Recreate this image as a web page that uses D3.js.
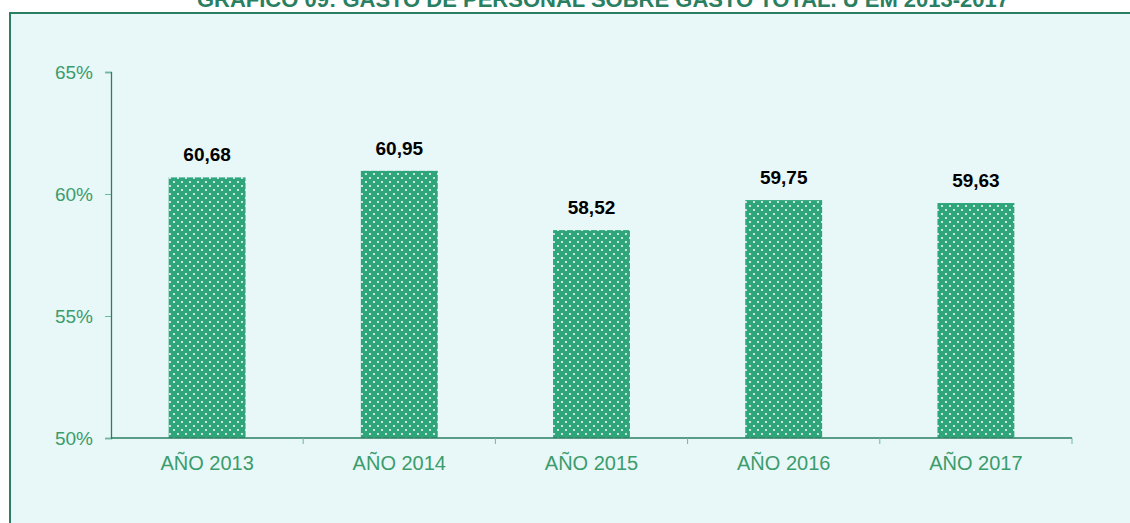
<!DOCTYPE html>
<html>
<head>
<meta charset="utf-8">
<script src="https://cdn.jsdelivr.net/npm/d3@7"></script>
<style>
  html, body { margin: 0; padding: 0; background: #ffffff; }
  svg { display: block; }
</style>
</head>
<body>
<svg id="chart" width="1130" height="523"></svg>
<script>
// Personnel spending as a share of total spending, by year
const years = ["AÑO 2013", "AÑO 2014", "AÑO 2015", "AÑO 2016", "AÑO 2017"];
const shares = [60.68, 60.95, 58.52, 59.75, 59.63];
const yTicks = [50, 55, 60, 65];
const titleText = "GRÁFICO 09: GASTO DE PERSONAL SOBRE GASTO TOTAL. U EM 2013-2017";

const svg = d3.select("#chart");
const W = 1130, H = 523;
const margin = { left: 111, right: 58, top: 72, bottom: 86 };
const font = "Liberation Sans, Arial, sans-serif";

const green = "#2a7f62";
const labelGreen = "#3b9c6c";
const barGreen = "#2fa57c";

// dotted fill for the bars
const defs = svg.append("defs");
const pat = defs.append("pattern")
  .attr("id", "dots")
  .attr("patternUnits", "userSpaceOnUse")
  .attr("width", 8).attr("height", 8);
pat.append("rect").attr("width", 8).attr("height", 8).attr("fill", barGreen);
[[2, 2], [6, 6]].forEach(([cx, cy]) => {
  pat.append("circle").attr("cx", cx).attr("cy", cy).attr("r", 1.1).attr("fill", "#e9f7ef");
});

// title, sitting right above the frame
svg.append("text")
  .attr("x", 603).attr("y", 7)
  .attr("text-anchor", "middle")
  .attr("font-family", font)
  .attr("font-weight", "bold")
  .attr("font-size", 22)
  .attr("fill", green)
  .text(titleText);

// chart frame
svg.append("rect")
  .attr("x", 10).attr("y", 13)
  .attr("width", W + 20).attr("height", H)
  .attr("fill", "#e8f7f7")
  .attr("stroke", green).attr("stroke-width", 2);

const x = d3.scaleBand()
  .domain(years)
  .range([margin.left, W - margin.right])
  .paddingInner(0.6).paddingOuter(0.3);

const y = d3.scaleLinear()
  .domain([50, 65])
  .range([H - margin.bottom + 1, margin.top]);

// bars
svg.append("g").selectAll("rect")
  .data(years)
  .join("rect")
  .attr("x", d => x(d))
  .attr("y", (d, i) => y(shares[i]))
  .attr("width", x.bandwidth())
  .attr("height", (d, i) => y(50) - y(shares[i]))
  .attr("fill", "url(#dots)");

// value labels
svg.append("g").selectAll("text")
  .data(years)
  .join("text")
  .attr("x", d => x(d) + x.bandwidth() / 2)
  .attr("y", (d, i) => y(shares[i]) - 16)
  .attr("text-anchor", "middle")
  .attr("font-family", font)
  .attr("font-weight", "bold")
  .attr("font-size", 19)
  .attr("fill", "#000")
  .text((d, i) => shares[i].toFixed(2).replace(".", ","));

// y axis
const yAxis = svg.append("g")
  .attr("transform", `translate(${margin.left},0)`)
  .call(d3.axisLeft(y).tickValues(yTicks).tickSize(6).tickPadding(12).tickFormat(d => d + "%"));
yAxis.select(".domain").attr("stroke", green).attr("stroke-width", 1.3);
yAxis.selectAll(".tick line").attr("stroke", "#6fb8a0");
yAxis.selectAll(".tick text")
  .attr("font-family", font)
  .attr("font-size", 19)
  .attr("fill", labelGreen);

// x axis with separators between categories
const bounds = d3.range(years.length + 1).map(i => margin.left + i * (W - margin.left - margin.right) / years.length);
const xg = svg.append("g");
xg.append("line")
  .attr("x1", margin.left).attr("x2", W - margin.right)
  .attr("y1", y(50)).attr("y2", y(50))
  .attr("stroke", green).attr("stroke-width", 1.3);
xg.selectAll("line.sep")
  .data(bounds.slice(1))
  .join("line")
  .attr("class", "sep")
  .attr("x1", d => d).attr("x2", d => d)
  .attr("y1", y(50)).attr("y2", y(50) + 6)
  .attr("stroke", "#6fb8a0");
xg.selectAll("text.cat")
  .data(years)
  .join("text")
  .attr("class", "cat")
  .attr("x", d => x(d) + x.bandwidth() / 2)
  .attr("y", y(50) + 32)
  .attr("text-anchor", "middle")
  .attr("font-family", font)
  .attr("font-size", 20)
  .attr("fill", labelGreen)
  .text(d => d);
</script>
</body>
</html>
